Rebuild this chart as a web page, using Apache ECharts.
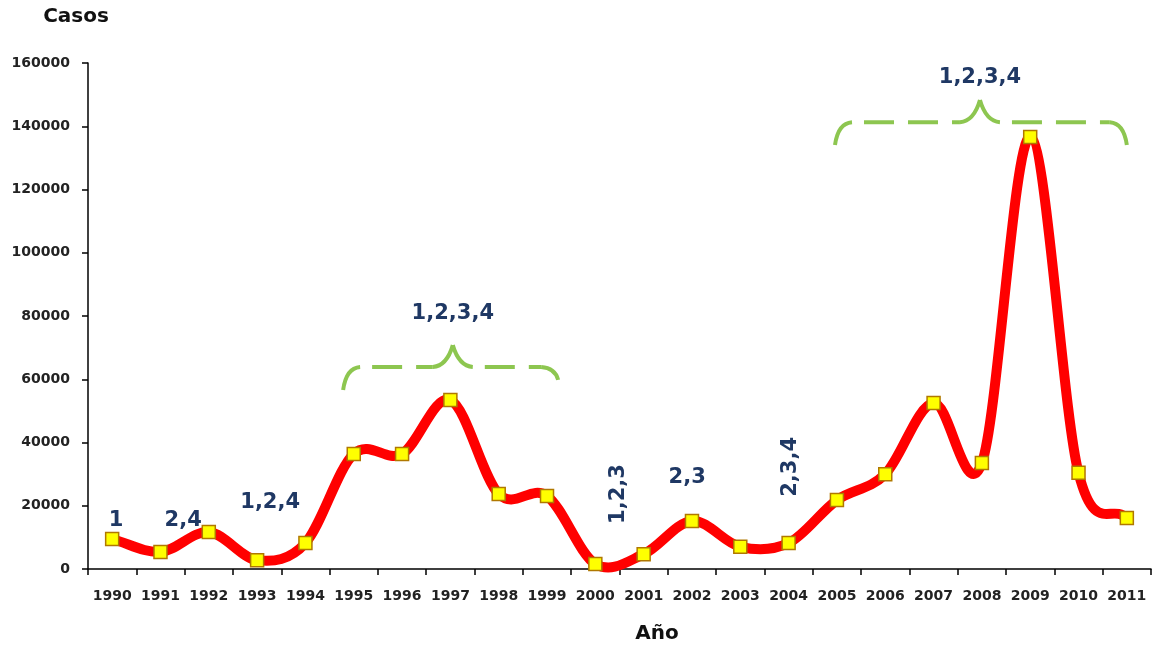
<!DOCTYPE html>
<html>
<head>
<meta charset="utf-8">
<script src="https://cdn.jsdelivr.net/npm/echarts@6/dist/echarts.min.js"></script>
<style>
html,body{margin:0;padding:0;background:#fff;}
#chart{width:1154px;height:647px;}
</style>
</head>
<body>
<div id="chart"></div>
<script>
// ---- data ----
const years = ['1990','1991','1992','1993','1994','1995','1996','1997','1998','1999','2000',
               '2001','2002','2003','2004','2005','2006','2007','2008','2009','2010','2011'];
const cases = [9500, 5400, 11700, 2800, 8200, 36400, 36400, 53400, 23700, 23100, 1600,
               4700, 15200, 7000, 8200, 21800, 30000, 52500, 33500, 136600, 30400, 16100];
const yMin = 0, yMax = 160000, yStep = 20000;
const yTitle = 'Casos';
const xTitle = 'Año';
// serotype annotations: [category position, value position]
const annTexts  = ['1', '2,4', '1,2,4', '1,2,3,4', '1,2,3', '2,3', '2,3,4', '1,2,3,4'];
const annAt     = [[0.08,15200],[1.47,15200],[3.27,20900],[7.05,80900],[10.47,23700],[11.9,28800],[14.03,32300],[17.96,155300]];
const annRotate = [0, 0, 0, 0, 90, 0, 90, 0];
// braces: from/to category position, level value, end values, peak position and value
const braceFrom  = [4.78, 14.96];
const braceTo    = [9.23, 21.0];
const braceLevel = [63900, 141300];
const braceEndL  = [56600, 134100];
const braceEndR  = [59800, 134100];
const bracePeakX = [7.05, 17.96];
const bracePeakY = [70800, 148300];

const FONT = '"DejaVu Sans", Verdana, sans-serif';
const chart = echarts.init(document.getElementById('chart'), null, {renderer: 'canvas'});
const n = cases.length;
const pairs = cases.map(function (v, i) { return [i, v]; });

chart.setOption({
  backgroundColor: '#ffffff',
  animation: false,
  grid: {left: 88, right: 3, top: 63, bottom: 78},
  xAxis: {
    type: 'category',
    data: years,
    boundaryGap: true,
    axisLine: {show: true, lineStyle: {color: '#000', width: 1.5}},
    axisTick: {show: true, alignWithLabel: false, length: 6, lineStyle: {color: '#000', width: 1.5}},
    axisLabel: {interval: 0, margin: 20, color: '#222', fontFamily: FONT, fontWeight: 'bold', fontSize: 14},
    splitLine: {show: false}
  },
  yAxis: {
    type: 'value',
    min: yMin, max: yMax, interval: yStep,
    axisLine: {show: true, lineStyle: {color: '#000', width: 1.5}},
    axisTick: {show: true, length: 6, lineStyle: {color: '#000', width: 1.5}},
    axisLabel: {margin: 18, color: '#222', fontFamily: FONT, fontWeight: 'bold', fontSize: 14,
                formatter: function (v) { return String(v); }},
    splitLine: {show: false}
  },
  series: [{
    // smooth curve (Excel-like cardinal spline) drawn through the axis scales
    type: 'custom',
    data: pairs,
    encode: {x: 0, y: 1},
    z: 2,
    silent: true,
    renderItem: function (params, api) {
      const i = params.dataIndex;
      if (i >= n - 1) return null;
      const P = function (k) { return api.coord([k, cases[k]]); };
      const p1 = P(i), p2 = P(i + 1);
      const p0 = i > 0 ? P(i - 1) : [2 * p1[0] - p2[0], 2 * p1[1] - p2[1]];
      const p3 = i + 2 < n ? P(i + 2) : [2 * p2[0] - p1[0], 2 * p2[1] - p1[1]];
      const t = 1 / 6;
      return {
        type: 'bezierCurve',
        shape: {
          x1: p1[0], y1: p1[1], x2: p2[0], y2: p2[1],
          cpx1: p1[0] + (p2[0] - p0[0]) * t, cpy1: p1[1] + (p2[1] - p0[1]) * t,
          cpx2: p2[0] - (p3[0] - p1[0]) * t, cpy2: p2[1] - (p3[1] - p1[1]) * t
        },
        style: {stroke: '#FF0000', lineWidth: 10, fill: null, lineCap: 'round'}
      };
    }
  }, {
    type: 'line',
    data: cases,
    clip: false,
    symbol: 'rect',
    symbolSize: 13,
    lineStyle: {width: 0, opacity: 0},
    itemStyle: {color: '#FFFF00', borderColor: '#B07800', borderWidth: 1.5},
    z: 3
  }]
});

function px(i) {
  const a = chart.convertToPixel({gridIndex: 0}, [0, 0]);
  const b = chart.convertToPixel({gridIndex: 0}, [1, 0]);
  return a[0] + (b[0] - a[0]) * i;
}
function py(v) {
  return chart.convertToPixel({gridIndex: 0}, [0, v])[1];
}

const graphics = [];
const navy = '#1F3864';
const green = '#8DC650';

annTexts.forEach(function (t, k) {
  graphics.push({
    type: 'text',
    x: px(annAt[k][0]),
    y: py(annAt[k][1]),
    rotation: annRotate[k] * Math.PI / 180,
    z: 10,
    style: {
      text: t, fill: navy, font: 'bold 21px ' + FONT,
      align: 'center', verticalAlign: 'middle',
      textAlign: 'center', textVerticalAlign: 'middle'
    }
  });
});

const braceStyle = {stroke: green, lineWidth: 4, fill: null, lineDash: [30, 14]};
const solid = Object.assign({}, braceStyle, {lineDash: null});
braceFrom.forEach(function (f, k) {
  const xL = px(f), xR = px(braceTo[k]), yB = py(braceLevel[k]);
  const yLb = py(braceEndL[k]), yRb = py(braceEndR[k]);
  const xP = px(bracePeakX[k]), yP = py(bracePeakY[k]);
  const c = 17, cp = 20;
  graphics.push({type: 'bezierCurve', z: 5, shape: {x1: xL, y1: yLb, cpx1: xL + 3, cpy1: yB + 1, x2: xL + c, y2: yB}, style: solid});
  graphics.push({type: 'line', z: 5, shape: {x1: xL + c + 12, y1: yB, x2: xP - cp, y2: yB}, style: braceStyle});
  graphics.push({type: 'bezierCurve', z: 5, shape: {x1: xP - cp, y1: yB, cpx1: xP - 6, cpy1: yB - 1, x2: xP, y2: yP}, style: solid});
  graphics.push({type: 'bezierCurve', z: 5, shape: {x1: xP, y1: yP, cpx1: xP + 6, cpy1: yB - 1, x2: xP + cp, y2: yB}, style: solid});
  graphics.push({type: 'line', z: 5, shape: {x1: xP + cp + 12, y1: yB, x2: xR - c, y2: yB}, style: braceStyle});
  graphics.push({type: 'bezierCurve', z: 5, shape: {x1: xR - c, y1: yB, cpx1: xR - 3, cpy1: yB + 1, x2: xR, y2: yRb}, style: solid});
});

// axis titles
graphics.push({
  type: 'text', x: 76, y: 17, z: 10,
  style: {text: yTitle, fill: '#111', font: 'bold 20px ' + FONT, align: 'center', verticalAlign: 'middle', textAlign: 'center', textVerticalAlign: 'middle'}
});
graphics.push({
  type: 'text', x: 657, y: 634, z: 10,
  style: {text: xTitle, fill: '#111', font: 'bold 20px ' + FONT, align: 'center', verticalAlign: 'middle', textAlign: 'center', textVerticalAlign: 'middle'}
});

chart.setOption({graphic: {elements: graphics}});
</script>
</body>
</html>
